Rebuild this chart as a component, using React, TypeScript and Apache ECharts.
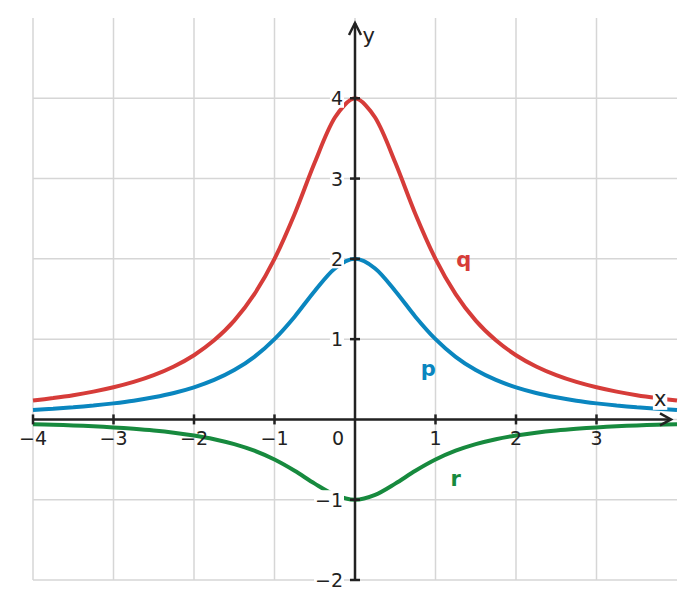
import { useEffect, useRef } from 'react';
import * as echarts from 'echarts';

// ─── Data ────────────────────────────────────────────────────────────────────

const X_VALUES = [
  -4, -3.75, -3.5, -3.25, -3, -2.75, -2.5, -2.25, -2, -1.75, -1.5, -1.25, -1, -0.75, -0.5, -0.25,
  0, 0.25, 0.5, 0.75, 1, 1.25, 1.5, 1.75, 2, 2.25, 2.5, 2.75, 3, 3.25, 3.5, 3.75, 4,
];

const Q_VALUES = [
  0.235, 0.266, 0.302, 0.346, 0.4, 0.467, 0.552, 0.66, 0.8, 0.985, 1.23, 1.56, 2, 2.56, 3.2, 3.76,
  4, 3.76, 3.2, 2.56, 2, 1.56, 1.23, 0.985, 0.8, 0.66, 0.552, 0.467, 0.4, 0.346, 0.302, 0.266, 0.235,
];

const P_VALUES = [
  0.118, 0.133, 0.151, 0.173, 0.2, 0.233, 0.276, 0.33, 0.4, 0.492, 0.615, 0.78, 1, 1.28, 1.6, 1.88,
  2, 1.88, 1.6, 1.28, 1, 0.78, 0.615, 0.492, 0.4, 0.33, 0.276, 0.233, 0.2, 0.173, 0.151, 0.133, 0.118,
];

const R_VALUES = [
  -0.059, -0.066, -0.075, -0.086, -0.1, -0.117, -0.138, -0.165, -0.2, -0.246, -0.308, -0.39, -0.5,
  -0.64, -0.8, -0.94, -1, -0.94, -0.8, -0.64, -0.5, -0.39, -0.308, -0.246, -0.2, -0.165, -0.138,
  -0.117, -0.1, -0.086, -0.075, -0.066, -0.059,
];

const X_TICKS = [-4, -3, -2, -1, 1, 2, 3];
const Y_TICKS = [-2, -1, 1, 2, 3, 4];
const X_GRID = [-4, -3, -2, -1, 0, 1, 2, 3];
const Y_GRID = [-2, -1, 0, 1, 2, 3, 4];

const CURVE_LABELS = [
  { name: 'q', at: [1.35, 1.99], color: '#d63c39' },
  { name: 'p', at: [0.91, 0.63], color: '#0a86bf' },
  { name: 'r', at: [1.25, -0.74], color: '#178a3e' },
];

// ─── Styling ─────────────────────────────────────────────────────────────────

const FONT = 'DejaVu Sans';
const AXIS_COLOR = '#222';
const GRID_COLOR = '#d6d6d6';
const TEXT_COLOR = '#222';
const LABEL_SIZE = 19;

const fmt = (v: number) => (v < 0 ? `\u2212${Math.abs(v)}` : String(v));

function pairs(ys: number[]) {
  return X_VALUES.map((x, i) => [x, ys[i]]);
}

function curve(name: string, ys: number[], color: string) {
  return {
    name,
    type: 'line',
    data: pairs(ys),
    smooth: 0.3,
    symbol: 'none',
    lineStyle: { color, width: 4 },
    z: 2,
  };
}

function buildOption(): echarts.EChartsCoreOption {
  return {
    animation: false,
    backgroundColor: '#fff',
    grid: { left: 33, right: 17, top: 18, bottom: 29, outerBoundsMode: 'none', containLabel: false },
    xAxis: {
      type: 'value',
      min: -4,
      max: 4,
      interval: 1,
      z: 10,
      position: 'bottom',
      axisLine: { show: false, onZero: false },
      axisTick: { show: false },
      splitLine: { show: false },
      axisLabel: {
        margin: 9,
        fontFamily: FONT,
        fontSize: LABEL_SIZE,
        color: TEXT_COLOR,
        showMinLabel: true,
        showMaxLabel: true,
        hideOverlap: false,
        formatter: (v: number) => (X_TICKS.includes(v) ? fmt(v) : ''),
      },
    },
    yAxis: {
      type: 'value',
      min: -2,
      max: 5,
      interval: 1,
      z: 10,
      position: 'left',
      axisLine: { show: false, onZero: false },
      axisTick: { show: false },
      splitLine: { show: false },
      axisLabel: {
        margin: 11,
        fontFamily: FONT,
        fontSize: LABEL_SIZE,
        color: TEXT_COLOR,
        hideOverlap: false,
        formatter: (v: number) => (Y_TICKS.includes(v) ? fmt(v) : ''),
        backgroundColor: '#fff',
        padding: [0, 1],
      },
    },
    series: [
      curve('q', Q_VALUES, '#d63c39'),
      curve('p', P_VALUES, '#0a86bf'),
      curve('r', R_VALUES, '#178a3e'),
    ],
  };
}

type ToPx = (x: number, y: number) => number[];

// Grid lines, axes through the origin, crossing ticks, arrow heads and text labels
function buildGraphic(toPx: ToPx) {
  const [x0, y0] = toPx(0, 0);
  const [left, bottom] = toPx(-4, -2);
  const [right, top] = toPx(4, 5);
  const xTip = right - 6;
  const yTip = top + 5;

  const gridStyle = { stroke: GRID_COLOR, lineWidth: 1.5 };
  const lineStyle = { stroke: AXIS_COLOR, lineWidth: 2.5 };
  const els: any[] = [];

  for (const g of X_GRID) {
    const [px] = toPx(g, 0);
    els.push({ type: 'line', z: 1, shape: { x1: px, y1: top, x2: px, y2: bottom }, style: gridStyle });
  }
  for (const g of Y_GRID) {
    const [, py] = toPx(0, g);
    els.push({ type: 'line', z: 1, shape: { x1: left, y1: py, x2: right, y2: py }, style: gridStyle });
  }

  els.push({ type: 'line', z: 20, shape: { x1: left, y1: y0, x2: xTip, y2: y0 }, style: lineStyle });
  els.push({ type: 'line', z: 20, shape: { x1: x0, y1: bottom, x2: x0, y2: yTip }, style: lineStyle });

  els.push({
    type: 'polyline',
    z: 20,
    shape: { points: [[xTip - 11, y0 - 6], [xTip, y0], [xTip - 11, y0 + 6]] },
    style: { ...lineStyle, fill: 'none' },
  });
  els.push({
    type: 'polyline',
    z: 20,
    shape: { points: [[x0 - 6, yTip + 12], [x0, yTip], [x0 + 6, yTip + 12]] },
    style: { ...lineStyle, fill: 'none' },
  });

  for (const t of X_TICKS) {
    const [px] = toPx(t, 0);
    els.push({ type: 'line', z: 20, shape: { x1: px, y1: y0 - 5, x2: px, y2: y0 + 5 }, style: lineStyle });
  }
  for (const t of Y_TICKS) {
    const [, py] = toPx(0, t);
    els.push({ type: 'line', z: 20, shape: { x1: x0 - 5, y1: py, x2: x0 + 5, y2: py }, style: lineStyle });
  }

  // origin label
  els.push({
    type: 'text',
    z: 20,
    x: x0 - 17,
    y: y0 + 9,
    style: {
      text: '0',
      fontFamily: FONT,
      fontSize: LABEL_SIZE,
      fill: TEXT_COLOR,
      align: 'center',
      verticalAlign: 'top',
    },
  });

  // axis names
  const [nxX, nxY] = toPx(3.79, 0.25);
  els.push({
    type: 'text',
    z: 20,
    x: nxX,
    y: nxY,
    style: {
      text: 'x',
      fontFamily: FONT,
      fontSize: 21,
      fill: TEXT_COLOR,
      align: 'center',
      verticalAlign: 'middle',
      backgroundColor: '#fff',
      padding: [0, 1],
    },
  });
  const [nyX, nyY] = toPx(0.17, 4.77);
  els.push({
    type: 'text',
    z: 20,
    x: nyX,
    y: nyY,
    style: {
      text: 'y',
      fontFamily: FONT,
      fontSize: 21,
      fill: TEXT_COLOR,
      align: 'center',
      verticalAlign: 'middle',
    },
  });

  for (const c of CURVE_LABELS) {
    const [cx, cy] = toPx(c.at[0], c.at[1]);
    els.push({
      type: 'text',
      z: 20,
      x: cx,
      y: cy,
      style: {
        text: c.name,
        fontFamily: FONT,
        fontSize: 21,
        fontWeight: 'bold',
        fill: c.color,
        align: 'center',
        verticalAlign: 'middle',
      },
    });
  }

  return els;
}

// ─── Component ───────────────────────────────────────────────────────────────

export default function App() {
  const containerRef = useRef<HTMLDivElement>(null);

  useEffect(() => {
    if (!containerRef.current) return;
    const chart = echarts.init(containerRef.current, null, { renderer: 'svg' });
    chart.setOption(buildOption());

    const toPx: ToPx = (x, y) =>
      chart.convertToPixel({ xAxisIndex: 0, yAxisIndex: 0 }, [x, y]) as number[];
    const [x0, y0] = toPx(0, 0);
    const [left, bottom] = toPx(-4, -2);

    // move the tick labels onto the axes that cross at the origin
    chart.setOption({
      xAxis: { offset: -(bottom - y0) },
      yAxis: { offset: -(x0 - left) },
      graphic: { elements: buildGraphic(toPx) },
    });

    return () => {
      chart.dispose();
    };
  }, []);

  return (
    <div
      ref={containerRef}
      style={{ position: 'fixed', left: 0, top: 0, width: 694, height: 609, background: '#fff' }}
    />
  );
}
